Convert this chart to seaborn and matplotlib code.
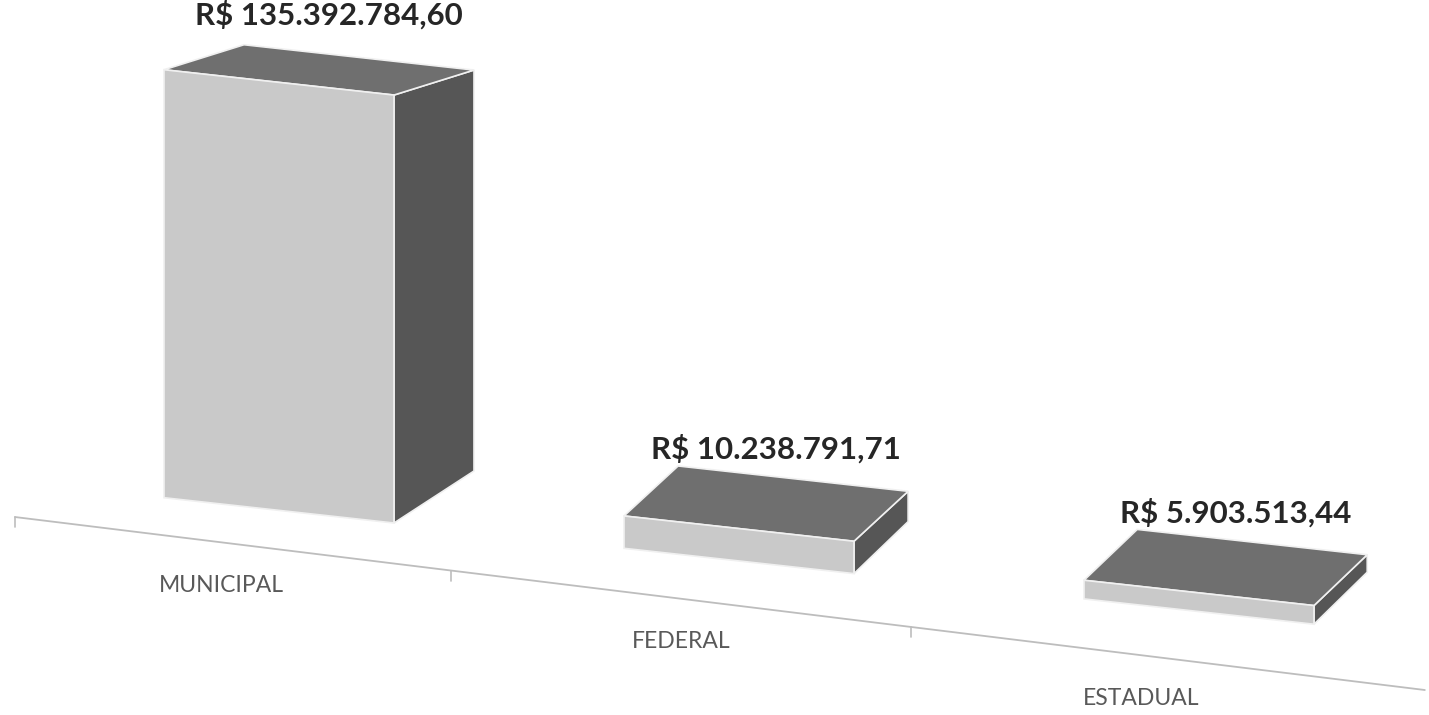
import math
import pandas as pd
import matplotlib
matplotlib.use('Agg')
import matplotlib.pyplot as plt
from matplotlib.patches import Polygon
from matplotlib.transforms import Affine2D
import seaborn as sns

# ------------------------
# Dados
# ------------------------
esferas = ['MUNICIPAL', 'FEDERAL', 'ESTADUAL']
valores = [135392784.60, 10238791.71, 5903513.44]
rotulos = ['R$ 135.392.784,60', 'R$ 10.238.791,71', 'R$ 5.903.513,44']

# ------------------------
# Estilo / "camera" do falso 3D
# ------------------------
COR_FRENTE = '#c9c9c9'
COR_TOPO = '#6f6f6f'
COR_LADO = '#565656'
COR_BORDA = '#f0f0f0'
COR_EIXO = '#bdbdbd'
INCL_BARRAS = 0.11      # queda da base das barras (px por px)
INCL_EIXO = 0.1227      # queda da linha do eixo
DESLOC_EIXO = (-58, -28.4)  # eixo fica a frente das barras
PROF_X = 52             # profundidade horizontal (px)
PROF_Y = 52             # profundidade vertical no chao (px)

sns.set_style('white')
plt.rcParams['font.family'] = ['Lato', 'DejaVu Sans']

df = pd.DataFrame({'esfera': esferas, 'valor': valores})

fig = plt.figure(figsize=(14.29, 7.15), dpi=100)
ax = fig.add_axes([0, 0, 1, 1])

sns.barplot(data=df, x='esfera', y='valor', order=esferas, color=COR_FRENTE,
            saturation=1, width=0.5, errorbar=None, edgecolor=COR_BORDA,
            linewidth=1.2, ax=ax)

ax.set_xlim(-0.6065, 2.5)
ax.set_ylim(-74.45e6, 151.75e6)
ax.axis('off')

bar_tr = ax.transData + Affine2D().skew(0, math.atan(-INCL_BARRAS))
eixo_tr = (ax.transData + Affine2D().skew(0, math.atan(-INCL_EIXO))
           + Affine2D().translate(*DESLOC_EIXO))

vmax = max(valores)
for p, rot in zip(ax.patches, rotulos):
    p.set_transform(bar_tr)
    x0, w, h = p.get_x(), p.get_width(), p.get_height()
    g = h / vmax
    bl, br, tr, tl = bar_tr.transform([(x0, 0), (x0 + w, 0), (x0 + w, h), (x0, h)])
    dx = PROF_X + 28 * g
    d_topo = (dx, PROF_Y - 27 * g)
    d_chao = (dx, PROF_Y)
    topo = [tl, tr, tr + d_topo, tl + d_topo]
    lado = [br, tr, tr + d_topo, br + d_chao]
    inv = bar_tr.inverted()
    for pts, cor in [(lado, COR_LADO), (topo, COR_TOPO)]:
        ax.add_artist(Polygon(inv.transform(pts), closed=True, transform=bar_tr,
                              facecolor=cor, edgecolor=COR_BORDA, linewidth=1.2,
                              clip_on=False, zorder=1))
    p.set_zorder(2)
    # rotulo acima do centro da face de topo
    centro_topo = (tl + tr) / 2 + (d_topo[0] / 2, d_topo[1] / 2)
    ax.annotate(rot, xy=inv.transform(centro_topo), xycoords=bar_tr,
                xytext=(10, 55), textcoords='offset pixels', ha='center',
                va='center', fontsize=22.5, fontweight='bold', color='#262626',
                zorder=5)

# linha do eixo com marcas entre categorias
x_ini, x_fim = -0.448, 2.617
ax.plot([x_ini, x_fim], [0, 0], color=COR_EIXO, lw=1.3, transform=eixo_tr,
        clip_on=False, zorder=0)
marca_tr = eixo_tr + Affine2D().translate(0, -10)
for xm in [x_ini, 0.5, 1.5]:
    a = eixo_tr.transform((xm, 0))
    b = marca_tr.transform((xm, 0))
    ax.plot([a[0], b[0]], [a[1], b[1]], color=COR_EIXO, lw=1.2,
            transform=None, clip_on=False)

rot_tr = eixo_tr + Affine2D().translate(0, -43)
for i, nome in enumerate(esferas):
    ax.text(i, 0, nome, transform=rot_tr, ha='center', va='center',
            fontsize=16.5, color='#595959')

fig.savefig('out.png', dpi=100)
